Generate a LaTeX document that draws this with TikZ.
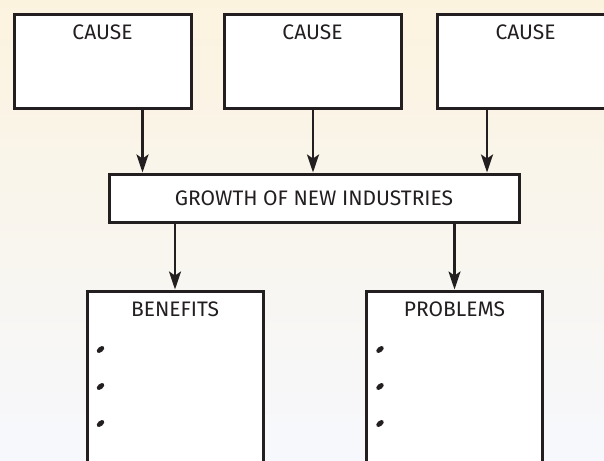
\documentclass[tikz,border=0pt]{standalone}
\usepackage{fontspec}
\setsansfont{Fira Sans}
\usepackage{tikz}
\usetikzlibrary{arrows.meta}
\usetikzlibrary{positioning}
\definecolor{cream}{HTML}{FCF3DF}
\definecolor{frost}{HTML}{F6F8FD}
\definecolor{ink}{HTML}{231F20}

\begin{document}
\begin{tikzpicture}[x=1pt, y=-1pt]
	\tikzstyle{box}=[draw=ink, fill=white, line width=3pt, inner sep=0pt]
	\tikzstyle{causebox}=[box, minimum width=177pt, minimum height=93pt]
	\tikzstyle{listbox}=[box, minimum width=176pt, minimum height=220pt]
	\tikzstyle{title}=[font=\sffamily\fontsize{21}{21}\selectfont, text=ink, inner sep=0pt]
	\tikzstyle{arr}=[-{Stealth[length=18pt,width=12pt,inset=4pt]}, line width=2.4pt, ink]
	%background
	\shade[top color=cream, bottom color=frost] (0,0) rectangle (604,460);
	\clip (0,0) rectangle (604,460);
	%%% CAUSES %%%
	\node[causebox] (c1) at (102.5,61.5) {};
	\node[causebox] (c2) at (312.5,61.5) {};
	\node[causebox] (c3) at (525.5,61.5) {};
	\node[title, below=11pt of c1.north] (t1) {CAUSE};
	\node[title, below=11pt of c2.north] (t2) {CAUSE};
	\node[title, below=11pt of c3.north] (t3) {CAUSE};
	%%% MIDDLE BOX %%%
	\node[box, minimum width=410pt, minimum height=48pt, title] (grow) at (314,198) {GROWTH OF NEW INDUSTRIES};
	%%% LISTS %%%
	\node[listbox] (ben) at (175,401) {};
	\node[listbox] (prob) at (454.5,401) {};
	\node[title, below=12pt of ben.north] (tb) {BENEFITS};
	\node[title, below=12pt of prob.north] (tp) {PROBLEMS};
	%bullets
	\foreach \lst in {ben, prob}
		\foreach \k in {60,97,134}
			\fill[ink, shift={([xshift=15pt,yshift=-\k pt]\lst.north west)}, rotate=40] (0,0) ellipse (4.4pt and 2.6pt);
	%arrows into the middle box
	\coordinate (a1) at ([xshift=40pt]c1.south);
	\coordinate (a2) at ([xshift=0.5pt]c2.south);
	\coordinate (a3) at ([xshift=-38.5pt]c3.south);
	\foreach \a in {a1,a2,a3}
		\draw[arr] (\a) -- (\a |- grow.north);
	%arrows out of the middle box
	\draw[arr] (grow.south -| ben.north) -- (ben.north);
	\draw[arr] (grow.south -| prob.north) -- (prob.north);
\end{tikzpicture}
\end{document}
